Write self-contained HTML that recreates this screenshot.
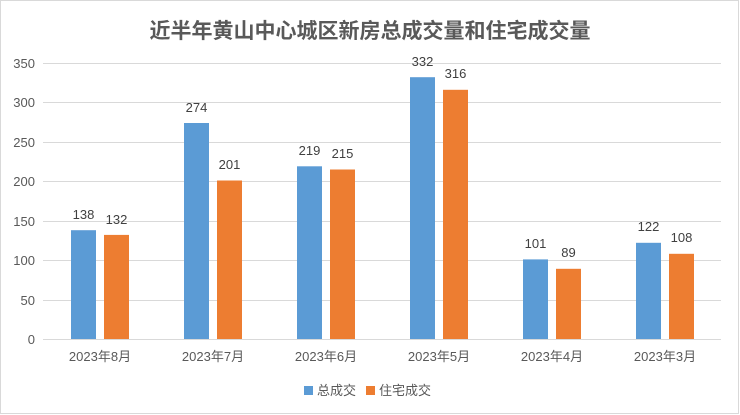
<!DOCTYPE html>
<html><head><meta charset="utf-8"><style>
html,body{margin:0;padding:0;background:#fff}
svg{display:block}
text{font-family:"Liberation Sans","Noto Sans CJK SC",sans-serif}
</style></head><body>
<svg width="740" height="415" viewBox="0 0 740 415" xmlns="http://www.w3.org/2000/svg">
<rect x="0.5" y="0.5" width="738" height="413" fill="#fff" stroke="#d9d9d9"/>
<text x="370" y="38" text-anchor="middle" font-size="21" font-weight="bold" fill="#595959">近半年黄山中心城区新房总成交量和住宅成交量</text>
<g stroke="#d9d9d9" stroke-width="1">
<line x1="43" x2="721" y1="63.5" y2="63.5"/>
<line x1="43" x2="721" y1="102.5" y2="102.5"/>
<line x1="43" x2="721" y1="142.5" y2="142.5"/>
<line x1="43" x2="721" y1="181.5" y2="181.5"/>
<line x1="43" x2="721" y1="221.5" y2="221.5"/>
<line x1="43" x2="721" y1="260.5" y2="260.5"/>
<line x1="43" x2="721" y1="300.5" y2="300.5"/>
<line x1="43" x2="721" y1="339.5" y2="339.5"/>
</g>
<g font-size="13" fill="#595959" text-anchor="end">
<text x="35" y="68">350</text><text x="35" y="107">300</text><text x="35" y="147">250</text>
<text x="35" y="186">200</text><text x="35" y="226">150</text><text x="35" y="265">100</text>
<text x="35" y="305">50</text><text x="35" y="344">0</text>
</g>
<g id="bars"></g>
<g font-size="13" fill="#404040" text-anchor="middle">
<!-- group centers: 100,213,326,439,552,665 -->
<rect x="71" y="230.2" width="25" height="108.8" fill="#5b9bd5"/><rect x="104" y="234.9" width="25" height="104.1" fill="#ed7d31"/>
<text x="83.5" y="219">138</text><text x="116.5" y="224">132</text>
<rect x="184" y="123.0" width="25" height="216.0" fill="#5b9bd5"/><rect x="217" y="180.5" width="25" height="158.5" fill="#ed7d31"/>
<text x="196.5" y="112">274</text><text x="229.5" y="169">201</text>
<rect x="297" y="166.3" width="25" height="172.7" fill="#5b9bd5"/><rect x="330" y="169.5" width="25" height="169.5" fill="#ed7d31"/>
<text x="309.5" y="155">219</text><text x="342.5" y="158">215</text>
<rect x="410" y="77.2" width="25" height="261.8" fill="#5b9bd5"/><rect x="443" y="89.8" width="25" height="249.2" fill="#ed7d31"/>
<text x="422.5" y="66">332</text><text x="455.5" y="78">316</text>
<rect x="523" y="259.4" width="25" height="79.6" fill="#5b9bd5"/><rect x="556" y="268.8" width="25" height="70.2" fill="#ed7d31"/>
<text x="535.5" y="248">101</text><text x="568.5" y="257">89</text>
<rect x="636" y="242.8" width="25" height="96.2" fill="#5b9bd5"/><rect x="669" y="253.8" width="25" height="85.2" fill="#ed7d31"/>
<text x="648.5" y="231">122</text><text x="681.5" y="242">108</text>
</g>
<g font-size="13" fill="#595959" text-anchor="middle">
<text x="100" y="361">2023年8月</text><text x="213" y="361">2023年7月</text><text x="326" y="361">2023年6月</text>
<text x="439" y="361">2023年5月</text><text x="552" y="361">2023年4月</text><text x="665" y="361">2023年3月</text>
</g>
<rect x="304" y="386" width="9" height="9" fill="#5b9bd5"/>
<text x="317" y="395" font-size="13" fill="#595959">总成交</text>
<rect x="366" y="386" width="9" height="9" fill="#ed7d31"/>
<text x="379" y="395" font-size="13" fill="#595959">住宅成交</text>
</svg>
</body></html>
